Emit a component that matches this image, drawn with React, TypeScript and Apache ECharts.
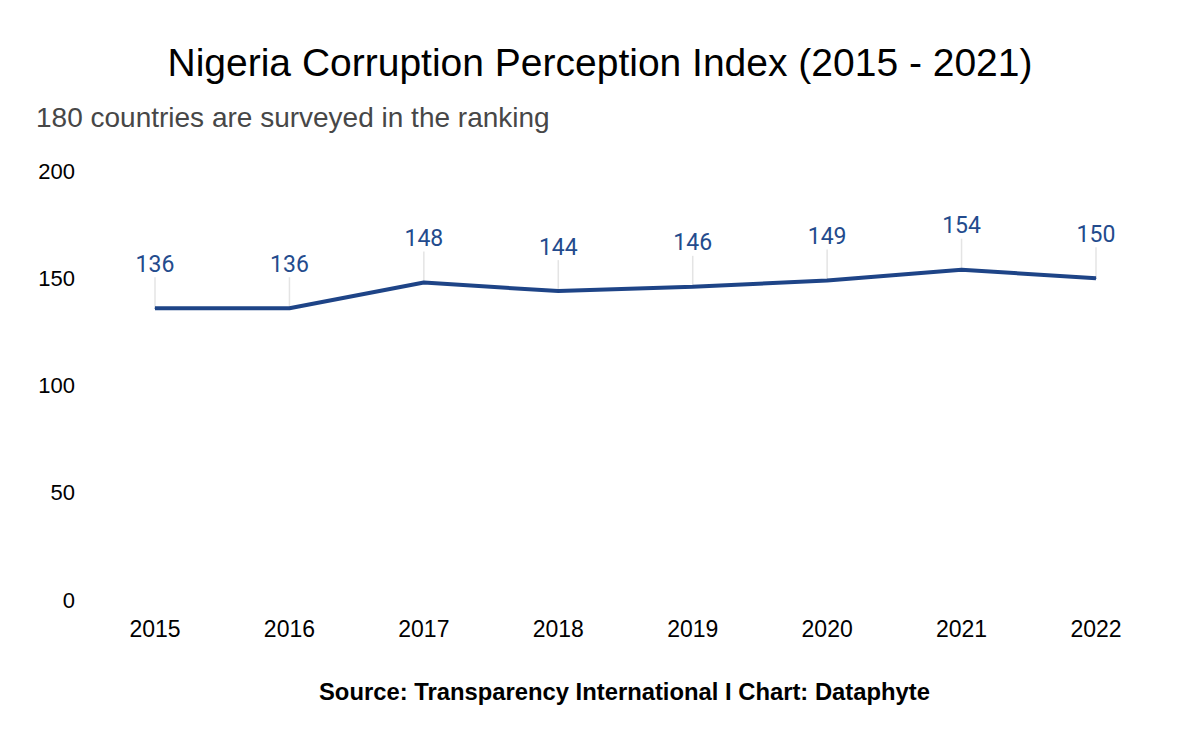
import React, { useEffect, useRef } from "react";
import * as echarts from "echarts";

const years = ["2015", "2016", "2017", "2018", "2019", "2020", "2021", "2022"];
const ranks = [136, 136, 148, 144, 146, 149, 154, 150];
const yTicks = { min: 0, max: 200, interval: 50 };

const titleText = "Nigeria Corruption Perception Index (2015 - 2021)";
const subtitleText = "180 countries are surveyed in the ranking";
const sourceText = "Source: Transparency International I Chart: Dataphyte";

const LINE_COLOR = "#1e4487";
const LABEL_COLOR = "#234b8d";

export default function App() {
  const ref = useRef<HTMLDivElement>(null);
  useEffect(() => {
    if (!ref.current) return;
    const chart = echarts.init(ref.current, null, { renderer: "svg" });
    chart.setOption({
      animation: false,
      backgroundColor: "#ffffff",
      title: [
        {
          text: titleText,
          left: "center",
          top: 38,
          textStyle: { fontFamily: "Liberation Sans", fontSize: 39, fontWeight: "normal", color: "#000" },
        },
        {
          text: subtitleText,
          left: 31,
          top: 98,
          textStyle: { fontFamily: "Liberation Sans", fontSize: 28, fontWeight: "normal", color: "#474747" },
        },
        {
          text: sourceText,
          left: 314,
          top: 674,
          textStyle: { fontFamily: "Liberation Sans", fontSize: 23.8, fontWeight: "bold", color: "#000" },
        },
      ],
      grid: { left: 155, right: 104, top: 171, bottom: 142, outerBoundsMode: "none", containLabel: false },
      xAxis: {
        type: "category",
        data: years,
        boundaryGap: false,
        axisLine: { show: false },
        axisTick: { show: false },
        axisLabel: { fontFamily: "Liberation Sans", fontSize: 23, color: "#000", margin: 17 },
      },
      yAxis: {
        type: "value",
        min: yTicks.min,
        max: yTicks.max,
        interval: yTicks.interval,
        axisLine: { show: false },
        axisTick: { show: false },
        splitLine: { show: false },
        axisLabel: { fontFamily: "Liberation Sans", fontSize: 22, color: "#000", margin: 80 },
      },
      series: [
        {
          type: "custom",
          data: ranks.map((v, i) => [i, v]),
          z: 1,
          silent: true,
          renderItem: (params: any, api: any) => {
            const p = api.coord([api.value(0), api.value(1)]);
            return {
              type: "line",
              shape: { x1: p[0], y1: p[1], x2: p[0], y2: p[1] - 31 },
              style: { stroke: "#e4e4e4", lineWidth: 1.5 },
            };
          },
        },
        {
          type: "line",
          data: ranks,
          z: 3,
          symbol: "circle",
          symbolSize: 1,
          showSymbol: true,
          itemStyle: { color: LINE_COLOR },
          lineStyle: { color: LINE_COLOR, width: 4 },
          label: {
            show: true,
            position: "top",
            distance: 32,
            fontFamily: "Roboto",
            fontSize: 23,
            color: LABEL_COLOR,
          },
        },
      ],
    });
    return () => chart.dispose();
  }, []);
  return (
    <div
      ref={ref}
      style={{ position: "fixed", left: 0, top: 0, width: 1200, height: 742 }}
    />
  );
}
